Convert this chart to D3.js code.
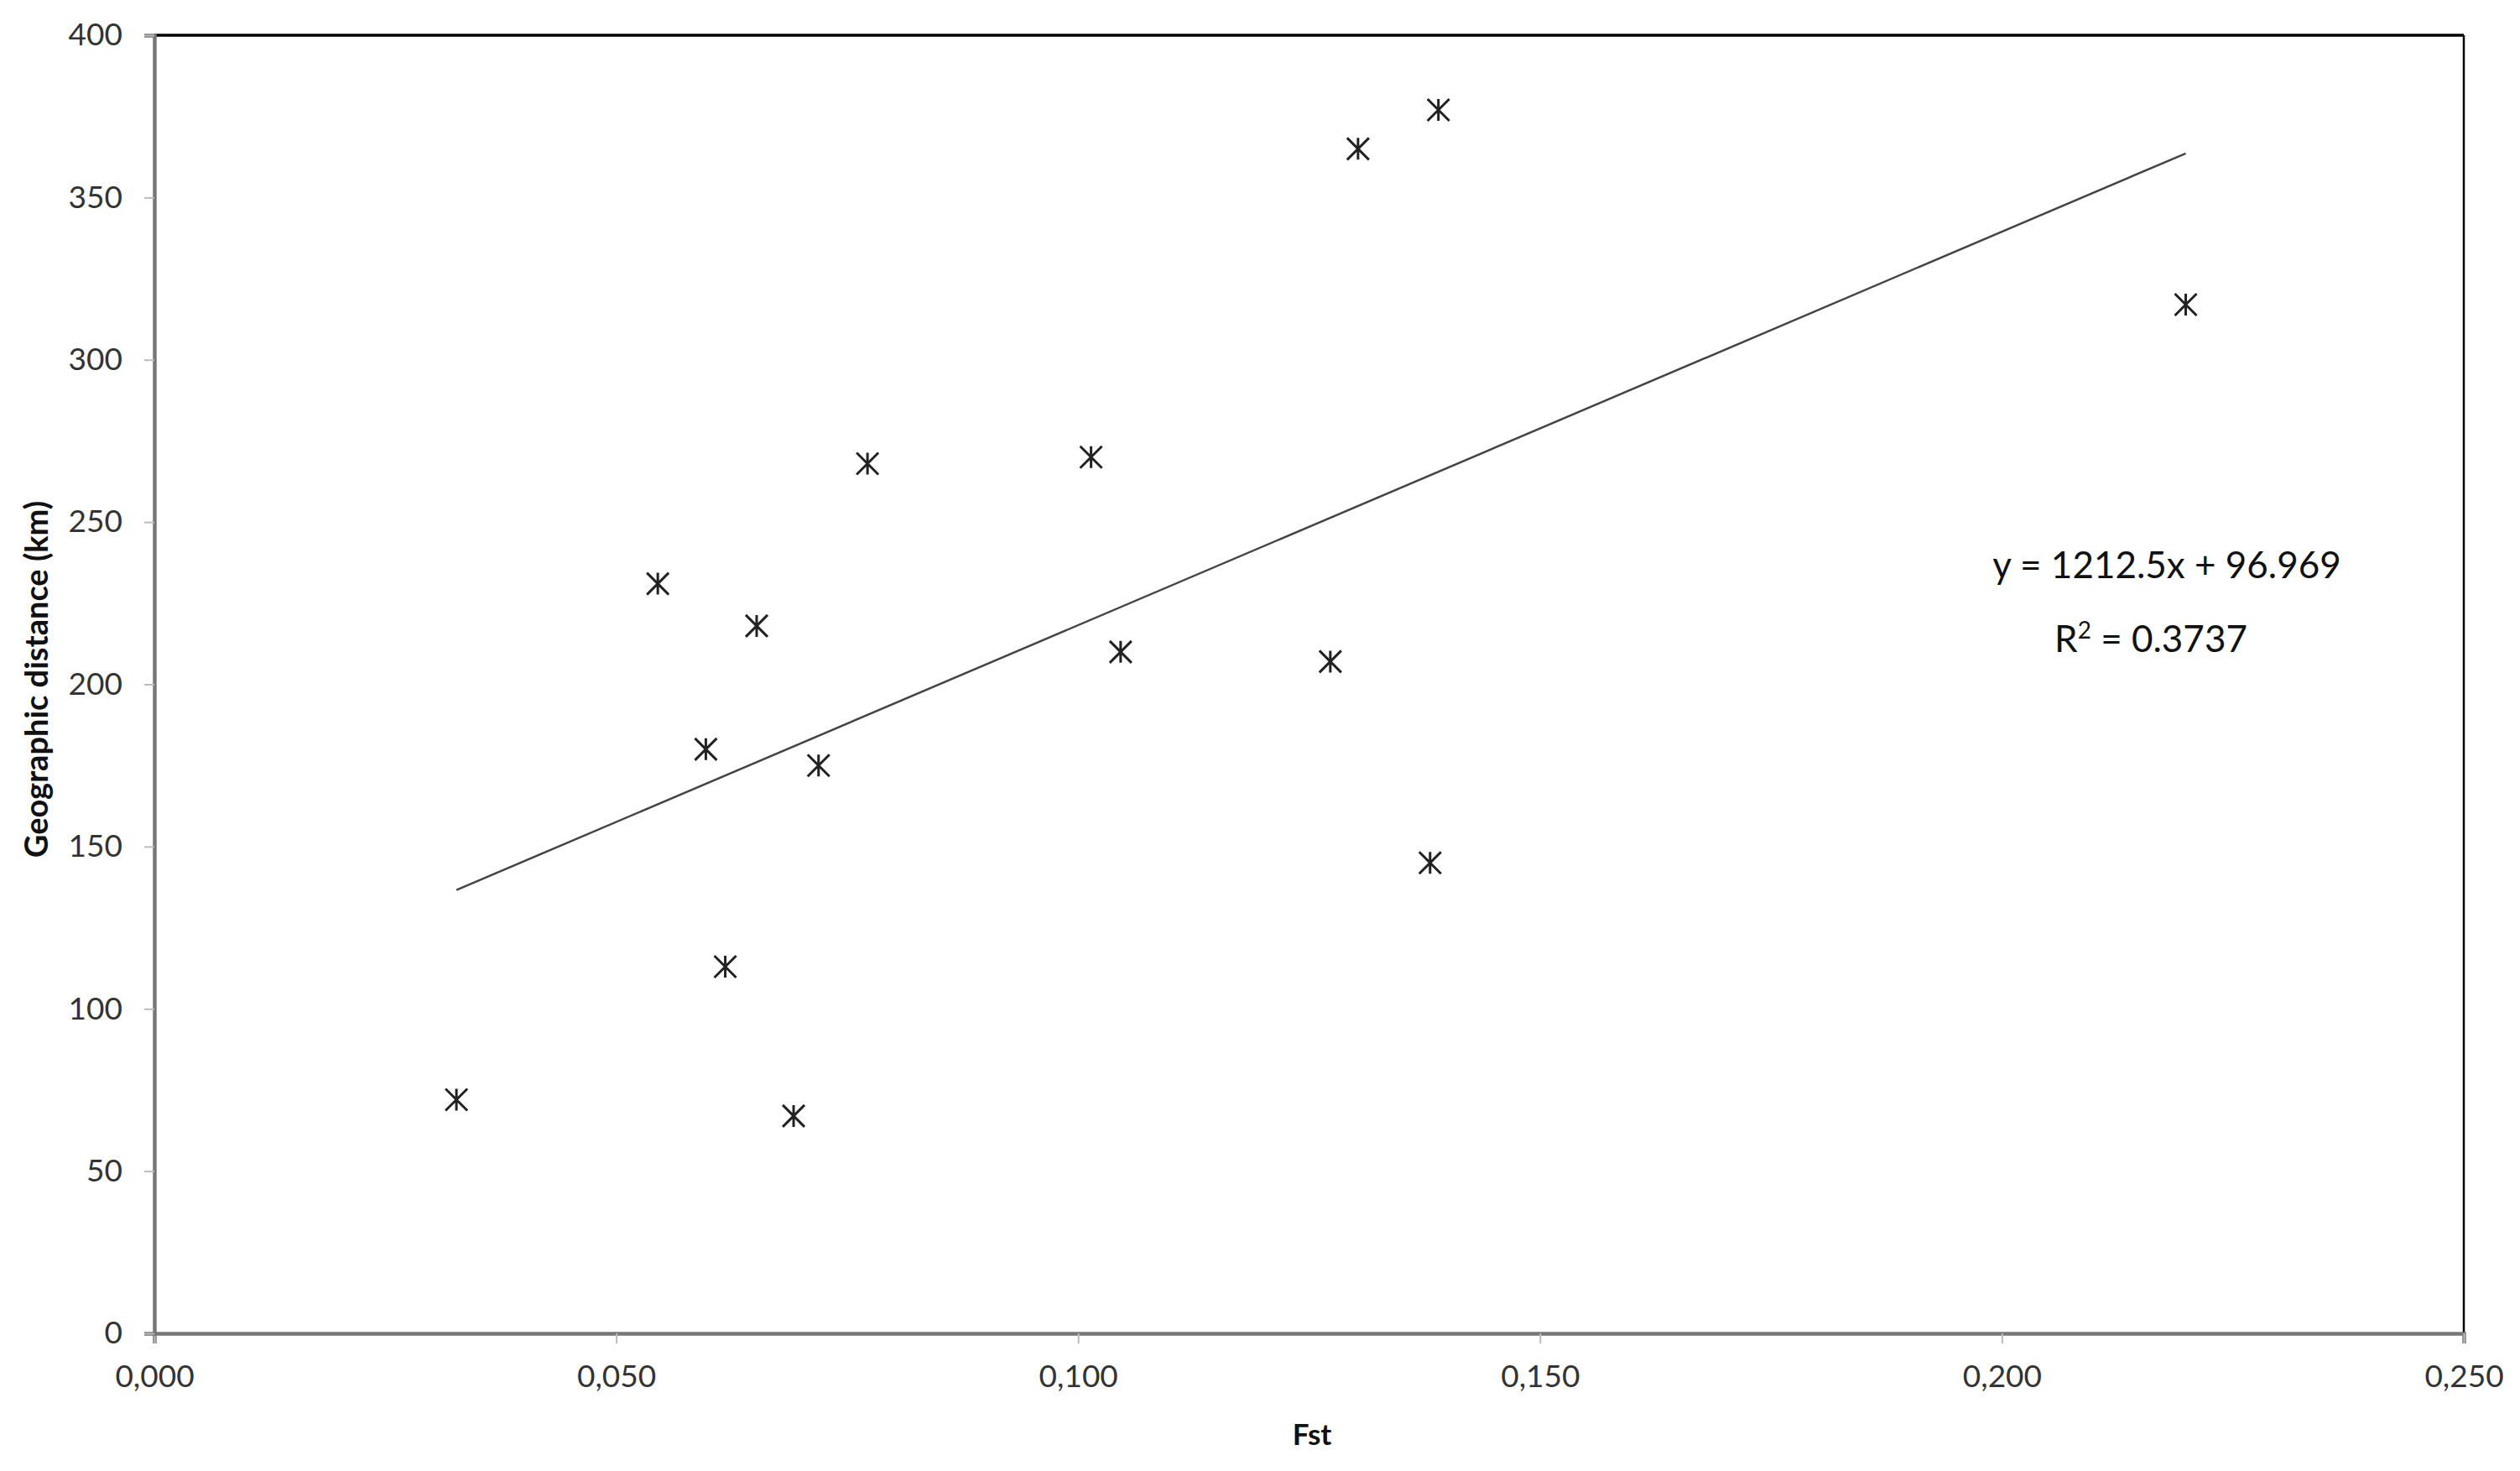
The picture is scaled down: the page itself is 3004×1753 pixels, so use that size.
<!DOCTYPE html>
<html>
<head>
<meta charset="utf-8">
<script src="https://cdn.jsdelivr.net/npm/d3@7"></script>
<style>
  html, body { margin: 0; padding: 0; background: #fff; }
  svg { display: block; }
</style>
</head>
<body>
<svg id="viz"></svg>
<script>
// Fst vs geographic distance between population pairs
const fstValues = [0.0327, 0.0545, 0.0597, 0.0618, 0.0652, 0.0692, 0.0719, 0.0772, 0.1014, 0.1046, 0.1273, 0.1303, 0.1381, 0.1390, 0.2199];
const distValues = [72, 231, 180, 113, 218, 67, 175, 268, 270, 210, 207, 365, 145, 377, 317];

const xTicks = [0, 0.05, 0.10, 0.15, 0.20, 0.25];
const yTicks = [0, 50, 100, 150, 200, 250, 300, 350, 400];

const trendSlope = 1212.5;
const trendIntercept = 96.969;
const equationLabel = "y = 1212.5x + 96.969";
const r2Label = "0.3737";

const xTitle = "Fst";
const yTitle = "Geographic distance (km)";

const width = 3004;
const height = 1753;
const margin = ({ top: 42, right: 67, bottom: 164, left: 184 });

const svg = d3.select("#viz")
    .attr("width", width)
    .attr("height", height)
    .attr("viewBox", [0, 0, width, height])
    .style("font-family", "Lato, 'Open Sans', sans-serif");

const x = d3.scaleLinear()
    .domain([0, 0.25])
    .range([margin.left, width - margin.right]);

const y = d3.scaleLinear()
    .domain([0, 400])
    .range([height - margin.bottom, margin.top]);

// frame: black top/right, gray axes bottom/left
svg.append("line")
    .attr("x1", x(0)).attr("x2", x(0.25))
    .attr("y1", y(400)).attr("y2", y(400))
    .attr("stroke", "#000").attr("stroke-width", 3.5);
svg.append("line")
    .attr("x1", x(0.25)).attr("x2", x(0.25))
    .attr("y1", y(400)).attr("y2", y(0))
    .attr("stroke", "#000").attr("stroke-width", 2.5);

const fmtX = d => d3.format(".3f")(d).replace(".", ",");

const xAxis = svg.append("g")
    .attr("transform", `translate(0,${y(0)})`)
    .call(d3.axisBottom(x).tickValues(xTicks).tickFormat(fmtX).tickSize(12).tickPadding(26))
    .call(g => g.select(".domain").attr("stroke", "#777").attr("stroke-width", 4.5));
xAxis.selectAll(".tick line").attr("stroke", "#bbb").attr("stroke-width", 2);
xAxis.selectAll(".tick text")
    .attr("font-size", 37)
    .attr("fill", "#333")
    .attr("font-family", "Lato, sans-serif");

const yAxis = svg.append("g")
    .attr("transform", `translate(${x(0)},0)`)
    .call(d3.axisLeft(y).tickValues(yTicks).tickSize(12).tickPadding(26))
    .call(g => g.select(".domain").attr("stroke", "#777").attr("stroke-width", 4.5));
yAxis.selectAll(".tick line").attr("stroke", "#bbb").attr("stroke-width", 2);
yAxis.selectAll(".tick text")
    .attr("font-size", 37)
    .attr("fill", "#333")
    .attr("font-family", "Lato, sans-serif");

// axis titles
svg.append("text")
    .attr("x", 1564)
    .attr("y", 1722)
    .attr("text-anchor", "middle")
    .attr("font-size", 35)
    .attr("font-weight", "bold")
    .attr("fill", "#111")
    .text(xTitle);

svg.append("text")
    .attr("transform", `translate(57,${(y(0) + y(400)) / 2 - 6}) rotate(-90)`)
    .attr("text-anchor", "middle")
    .attr("font-size", 38)
    .attr("font-weight", "bold")
    .attr("fill", "#111")
    .text(yTitle);

// trend line over the range of the data
const xMin = d3.min(fstValues), xMax = d3.max(fstValues);
svg.append("line")
    .attr("x1", x(xMin)).attr("y1", y(trendSlope * xMin + trendIntercept))
    .attr("x2", x(xMax)).attr("y2", y(trendSlope * xMax + trendIntercept))
    .attr("stroke", "#444")
    .attr("stroke-width", 2.5);

// asterisk markers
const points = fstValues.map((f, i) => ({ fst: f, dist: distValues[i] }));
const r = 13;
const star = `M0,${-r}L0,${r}M${-r},${-r}L${r},${r}M${-r},${r}L${r},${-r}`;
svg.append("g")
    .selectAll("path")
    .data(points)
    .join("path")
        .attr("transform", d => `translate(${x(d.fst)},${y(d.dist)})`)
        .attr("d", star)
        .attr("fill", "none")
        .attr("stroke", "#222")
        .attr("stroke-width", 3);

// regression label
svg.append("text")
    .attr("x", 2583)
    .attr("y", 689)
    .attr("text-anchor", "middle")
    .attr("font-size", 44)
    .attr("fill", "#111")
    .text(equationLabel);

const r2 = svg.append("text")
    .attr("x", 2564)
    .attr("y", 777)
    .attr("text-anchor", "middle")
    .attr("font-size", 44)
    .attr("fill", "#111");
r2.append("tspan").text("R");
r2.append("tspan").attr("font-size", 28).attr("dy", -16).text("2");
r2.append("tspan").attr("dy", 16).text(" = " + r2Label);
</script>
</body>
</html>
